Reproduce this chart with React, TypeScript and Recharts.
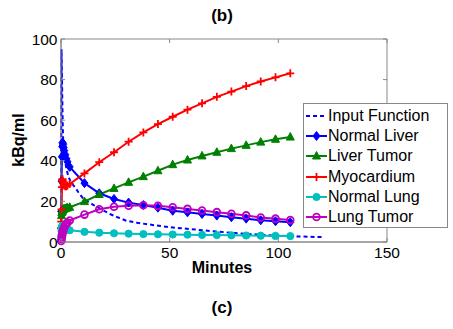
import React from "react";
import { LineChart, Line, XAxis, YAxis, ReferenceArea } from "recharts";

// frame mid-times (minutes) for the tissue curves
const frameTimes = [
  0.1, 0.25, 0.4, 0.55, 0.7, 0.85, 1, 1.25, 1.5, 2, 2.5, 3, 4, 10.8, 17.6, 24.4, 31.1, 37.9, 44.6, 51.4, 58.2,
  64.9, 71.7, 78.4, 85.2, 91.9, 98.7, 105.5,
];
const normalLiver = [
  15, 30, 42, 47, 49, 48.5, 48, 46.5, 45, 43, 41, 39.5, 37, 29, 24, 21.2, 19.4, 18.2, 16.9, 15.4, 14.6, 13.8, 13.0,
  12.2, 11.5, 10.7, 10.2, 9.7,
];
const liverTumor = [
  8, 13, 14.5, 15, 15.5, 15.8, 16, 16.2, 16.3, 16.5, 16.7, 16.8, 17.1, 19.9, 23.4, 26.4, 29.4, 32.2, 35.1, 38.1, 40.4,
  42.4, 44.2, 46, 47.6, 49.2, 50.6, 51.7,
];
const myocardium = [
  10, 16, 27, 30.5, 31, 30, 29, 28.2, 27.8, 27.5, 27.5, 27.8, 28.6, 33.8, 39.3, 44.2, 49.4, 54, 58.1, 61.7, 65.2, 68.3,
  71.5, 74.1, 76.8, 79.1, 81.1, 83.1,
];
const normalLung = [
  3, 5.5, 7, 7.8, 8, 7.8, 7.5, 7.2, 7, 6.6, 6.3, 6.1, 5.8, 5.0, 4.6, 4.3, 4.1, 3.9, 3.8, 3.7, 3.6, 3.5, 3.4, 3.3, 3.2,
  3.1, 3.0, 2.9,
];
const lungTumor = [
  0.5, 1.5, 2.5, 3.5, 4.5, 5.2, 5.8, 6.6, 7.3, 8.3, 9.0, 9.6, 10.6, 13.5, 16.1, 17.4, 17.9, 18.1, 17.8, 17.1, 16.3,
  15.5, 14.7, 13.9, 13.1, 12.1, 11.5, 10.8,
];

// plasma input function (dashed)
const inputTimes = [
  0, 0.1, 0.25, 0.4, 0.6, 0.8, 1, 1.5, 2, 2.6, 3.5, 4.5, 6.4, 8, 10, 12.5, 15, 18, 22.5, 26, 30, 35, 40, 45, 50, 55,
  60, 65, 70, 80, 90, 100, 110, 120,
];
const inputValues = [
  0, 40, 95, 85, 70, 58, 50, 44, 39, 35.5, 32, 29.5, 27, 24.5, 21.7, 19.8, 18.2, 16.4, 13.8, 12.2, 10.5, 9.5, 8.7,
  8.0, 7.3, 6.8, 6.3, 5.8, 5.3, 4.4, 3.7, 3.1, 2.7, 2.4,
];

const xTicks = [0, 50, 100, 150];
const yTicks = [0, 20, 40, 60, 80, 100];

const toRows = (times: number[], values: number[]) => times.map((t, i) => ({ t, v: values[i] }));

type Shape = "diamond" | "triangle" | "plus" | "dot" | "ring" | "none";

const series: { name: string; color: string; shape: Shape; values: number[] }[] = [
  { name: "Normal Liver", color: "#0000ff", shape: "diamond", values: normalLiver },
  { name: "Liver Tumor", color: "#008000", shape: "triangle", values: liverTumor },
  { name: "Myocardium", color: "#ff0000", shape: "plus", values: myocardium },
  { name: "Normal Lung", color: "#00bfbf", shape: "dot", values: normalLung },
  { name: "Lung Tumor", color: "#bf00bf", shape: "ring", values: lungTumor },
];

const FONT = "'Liberation Sans', Arial, sans-serif";
const AXIS = "#888";
// plot area edges (px)
const PL = 61;
const PR = 387;
const PT = 39;
const PB = 242;

function Marker({ shape, color, x, y }: { shape: Shape; color: string; x: number; y: number }) {
  if (shape === "diamond")
    return <polygon points={`${x},${y - 4.5} ${x + 3.5},${y} ${x},${y + 4.5} ${x - 3.5},${y}`} fill={color} stroke={color} />;
  if (shape === "triangle")
    return <polygon points={`${x},${y - 4.5} ${x + 4},${y + 3} ${x - 4},${y + 3}`} fill={color} stroke={color} />;
  if (shape === "plus")
    return (
      <path d={`M${x - 4},${y}H${x + 4}M${x},${y - 4}V${y + 4}`} stroke={color} strokeWidth={1.8} fill="none" />
    );
  if (shape === "dot") return <circle cx={x} cy={y} r={3.6} fill={color} stroke={color} />;
  if (shape === "ring") return <circle cx={x} cy={y} r={3.4} fill="none" stroke={color} strokeWidth={1.8} />;
  return null;
}

const makeDot = (shape: Shape, color: string) => (props: any) => {
  const { cx, cy, index } = props;
  if (cx == null || cy == null) return <g key={`d${index}`} />;
  return (
    <g key={`d${index}`}>
      <Marker shape={shape} color={color} x={cx} y={cy} />
    </g>
  );
};

const YTick = (props: any) => {
  const { x, y, payload } = props;
  return (
    <g>
      <line x1={PL} x2={PL + 4} y1={y} y2={y} stroke={AXIS} />
      <line x1={PR - 4} x2={PR} y1={y} y2={y} stroke={AXIS} />
      <text x={x} y={y} dy="0.36em" textAnchor="end" fontSize={15.5} fill="#000" fontFamily={FONT}>
        {payload.value}
      </text>
    </g>
  );
};

const XTick = (props: any) => {
  const { x, y, payload } = props;
  return (
    <g>
      <line x1={x} x2={x} y1={PB} y2={PB - 4} stroke={AXIS} />
      <line x1={x} x2={x} y1={PT} y2={PT + 4} stroke={AXIS} />
      <text x={x} y={y} dy="0.71em" textAnchor="middle" fontSize={15.5} fill="#000" fontFamily={FONT}>
        {payload.value}
      </text>
    </g>
  );
};

const legendItems = [{ name: "Input Function", color: "#0000ff", shape: "none" as Shape, dashed: true }].concat(
  series.map((s) => ({ name: s.name, color: s.color, shape: s.shape, dashed: false }))
);

export default function App() {
  return (
    <div style={{ position: "absolute", left: 0, top: 0, width: 453, height: 329, background: "#fff", fontFamily: FONT }}>
      <LineChart width={453} height={329} margin={{ top: 39, right: 66, bottom: 57, left: 0 }}>
        <XAxis
          dataKey="t"
          type="number"
          domain={[0, 150]}
          ticks={xTicks}
          height={30}
          tickSize={0}
          tickMargin={5}
          stroke={AXIS}
          tick={<XTick />}
          allowDuplicatedCategory={false}
        />
        <YAxis
          type="number"
          domain={[0, 100]}
          ticks={yTicks}
          width={61}
          tickSize={0}
          tickMargin={3.5}
          stroke={AXIS}
          tick={<YTick />}
        />
        <ReferenceArea x1={0} x2={150} y1={0} y2={100} fill="none" stroke={AXIS} strokeWidth={1} />
        <Line
          data={toRows(inputTimes, inputValues)}
          dataKey="v"
          name="Input Function"
          type="linear"
          stroke="#0000ff"
          strokeWidth={2}
          strokeDasharray="4 3"
          dot={false}
          isAnimationActive={false}
        />
        {series.map((s) => (
          <Line
            key={s.name}
            data={toRows(frameTimes, s.values)}
            dataKey="v"
            name={s.name}
            type="linear"
            stroke={s.color}
            strokeWidth={2}
            dot={makeDot(s.shape, s.color)}
            activeDot={false}
            isAnimationActive={false}
          />
        ))}
      </LineChart>

      {/* titles and axis labels */}
      <div style={{ position: "absolute", left: 172, width: 100, top: 6, textAlign: "center", fontWeight: "bold", fontSize: 17 }}>
        (b)
      </div>
      <div style={{ position: "absolute", left: 172, width: 100, top: 298, textAlign: "center", fontWeight: "bold", fontSize: 17 }}>
        (c)
      </div>
      <div style={{ position: "absolute", left: 172, width: 100, top: 259, textAlign: "center", fontWeight: "bold", fontSize: 16 }}>
        Minutes
      </div>
      <div
        style={{
          position: "absolute",
          left: 19,
          top: 140,
          transform: "translate(-50%, -50%) rotate(-90deg)",
          fontWeight: "bold",
          fontSize: 16,
          whiteSpace: "nowrap",
        }}
      >
        kBq/ml
      </div>

      {/* legend box */}
      <div
        style={{
          position: "absolute",
          left: 303,
          top: 103,
          width: 145,
          height: 125,
          boxSizing: "border-box",
          border: `1px solid ${AXIS}`,
          background: "#fff",
          paddingTop: 2,
        }}
      >
        {legendItems.map((it) => (
          <div key={it.name} style={{ display: "flex", alignItems: "center", height: 20.2, fontSize: 16, color: "#000" }}>
            <svg width={24} height={20} style={{ flex: "none" }}>
              <line
                x1={2}
                x2={23}
                y1={10}
                y2={10}
                stroke={it.color}
                strokeWidth={2}
                strokeDasharray={it.dashed ? "4 3" : undefined}
              />
              <Marker shape={it.shape} color={it.color} x={12.5} y={10} />
            </svg>
            <span style={{ whiteSpace: "nowrap" }}>{it.name}</span>
          </div>
        ))}
      </div>
    </div>
  );
}
